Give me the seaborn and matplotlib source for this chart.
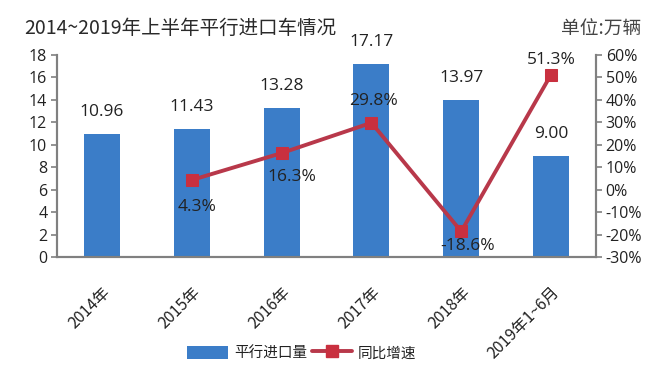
import numpy as np
import pandas as pd
import matplotlib
matplotlib.use("Agg")
import matplotlib.pyplot as plt
import seaborn as sns
from matplotlib.lines import Line2D
from matplotlib.patches import Patch

categories = ["2014年", "2015年", "2016年", "2017年", "2018年", "2019年1~6月"]
volumes = [10.96, 11.43, 13.28, 17.17, 13.97, 9.00]
growth = [None, 4.3, 16.3, 29.8, -18.6, 51.3]
vol_labels = ["10.96", "11.43", "13.28", "17.17", "13.97", "9.00"]
growth_labels = ["", "4.3%", "16.3%", "29.8%", "-18.6%", "51.3%"]
left_ticks = list(range(0, 19, 2))
right_ticks = list(range(-30, 61, 10))

# label offsets in pixels (style only)
BAR_LAB_DY = 22
line_lab_off = [None, (5, -27), (10, -24), (2, 22), (6, -15), (0, 15)]

sns.set_theme(style="white")
plt.rcParams['font.family'] = ['Noto Sans CJK SC', 'DejaVu Sans']

BLUE = "#3b7dc8"
RED = "#b8384a"
MRED = "#c9303f"
GRAY = "#808080"
TXT = "#222222"
NUMFONT = ['Open Sans', 'DejaVu Sans']
PT = 0.72  # points per pixel at dpi 100

fig = plt.figure(figsize=(6.6, 3.82), dpi=100)
ax = fig.add_axes([57/660, 1-257/382, (596-57)/660, (257-55)/382])

df = pd.DataFrame({"cat": categories, "vol": volumes})
sns.barplot(data=df, x="cat", y="vol", ax=ax, color=BLUE, width=0.4,
            saturation=1, edgecolor="none")
ax.set_ylim(0, 18)
ax.set_yticks(left_ticks)
ax.set_yticklabels([str(t) for t in left_ticks], fontsize=11.5, color=TXT, family=NUMFONT)
ax.set_xlim(-0.5, len(categories) - 0.5)
ax.set_xlabel("")
ax.set_ylabel("")
ax.set_xticks(np.arange(len(categories)))
ax.set_xticklabels(categories, rotation=45, ha="right", rotation_mode="anchor",
                   fontsize=11.5, color=TXT)
for lbl in ax.get_xticklabels():
    lbl.set_x(lbl.get_position()[0])
ax.set_xticks(np.arange(len(categories) + 1) - 0.5, minor=True)
ax.tick_params(axis="x", which="major", length=0, pad=19)
ax.tick_params(axis="x", which="minor", length=5, color=GRAY, width=1.2, direction="out")
ax.tick_params(axis="y", length=4, color=GRAY, width=1.2, direction="out", pad=3, left=True)
ax.spines["top"].set_visible(False)
for s in ["left", "bottom", "right"]:
    ax.spines[s].set_color(GRAY)
    ax.spines[s].set_linewidth(1.5)

for i, (v, lab) in enumerate(zip(volumes, vol_labels)):
    ax.annotate(lab, (i, v), xytext=(0, BAR_LAB_DY * PT), textcoords="offset points",
                ha="center", va="center", fontsize=12.5, color=TXT, family=NUMFONT)

ax2 = ax.twinx()
gdf = pd.DataFrame({"pos": np.arange(len(categories)), "g": growth}).dropna()
sns.lineplot(data=gdf, x="pos", y="g", ax=ax2, color=RED, linewidth=2.8,
             marker="s", markersize=9, markeredgecolor=MRED, markerfacecolor=MRED)
ax2.set_ylim(-30, 60)
ax2.set_yticks(right_ticks)
ax2.set_yticklabels([f"{t}%" for t in right_ticks], fontsize=11.5, color=TXT, family=NUMFONT)
ax2.set_ylabel("")
ax2.set_xlabel("")
ax2.tick_params(axis="y", length=4, color=GRAY, width=1.2, direction="out", pad=3, right=True)
ax2.spines["top"].set_visible(False)
for s in ["left", "bottom", "right"]:
    ax2.spines[s].set_color(GRAY)
    ax2.spines[s].set_linewidth(1.5)
ax2.set_xlim(-0.5, len(categories) - 0.5)

for i, (g, lab) in enumerate(zip(growth, growth_labels)):
    if g is None:
        continue
    dx, dy = line_lab_off[i]
    ax2.annotate(lab, (i, g), xytext=(dx * PT, dy * PT), textcoords="offset points",
                 ha="center", va="center", fontsize=12.5, color=TXT, family=NUMFONT)

fig.text(24/660, 1-28/382, "2014~2019年上半年平行进口车情况", fontsize=14, color="#2a2a2a",
         ha="left", va="center")
fig.text(641/660, 1-29/382, "单位:万辆", fontsize=13.5, color="#444444",
         ha="right", va="center")

handles = [Patch(facecolor=BLUE, edgecolor="none"),
           Line2D([0], [0], color=RED, lw=2.8, marker="s", markersize=8,
                  markerfacecolor=MRED, markeredgecolor=MRED)]
fig.legend(handles, ["平行进口量", "同比增速"], loc="center", bbox_to_anchor=(302/660, 1-353/382),
           ncol=2, frameon=False, fontsize=10.5, handlelength=2.8, handleheight=1.0,
           columnspacing=0.3, handletextpad=0.4, labelcolor=TXT)

fig.savefig("out.png", dpi=100)
